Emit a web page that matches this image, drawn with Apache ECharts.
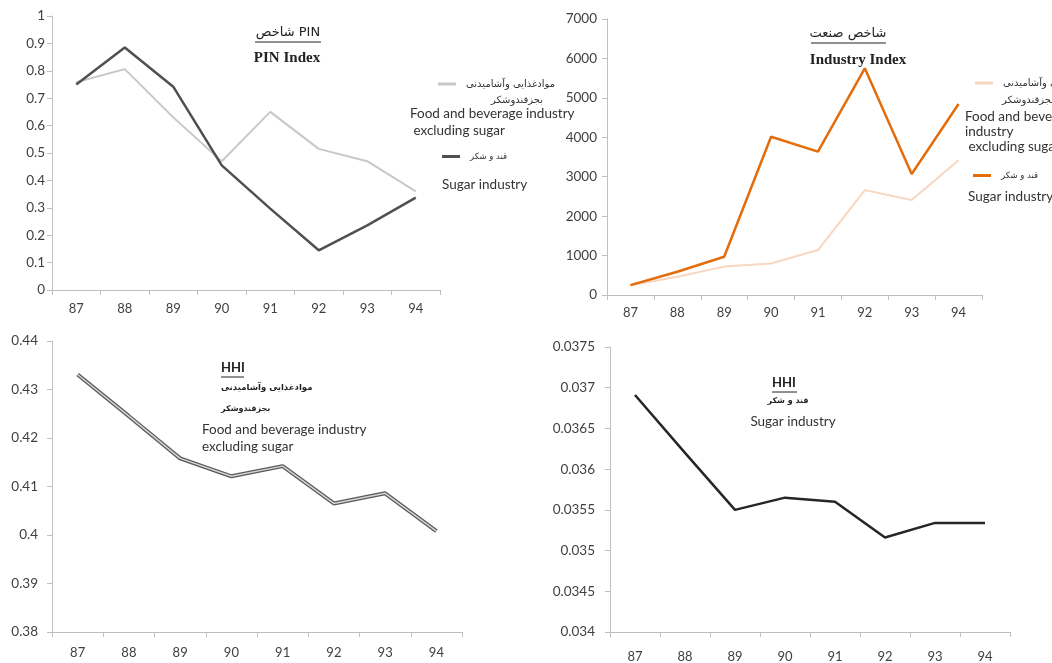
<!DOCTYPE html>
<html>
<head>
<meta charset="utf-8">
<script src="https://cdn.jsdelivr.net/npm/echarts@6/dist/echarts.min.js"></script>
<style>
html,body{margin:0;padding:0;background:#fff;}
#c{width:1052px;height:663px;}
</style>
</head>
<body>
<div id="c"></div>
<script>
const years = ['87','88','89','90','91','92','93','94'];
// PIN index
const pinFood  = [0.758, 0.806, 0.630, 0.470, 0.650, 0.515, 0.470, 0.360];
const pinSugar = [0.750, 0.885, 0.742, 0.455, 0.297, 0.145, 0.236, 0.337];
// Industry index
const indFood  = [250, 465, 720, 800, 1140, 2660, 2410, 3420];
const indSugar = [250, 590, 970, 4015, 3635, 5750, 3070, 4845];
// HHI
const hhiFood  = [0.4331, 0.4245, 0.4158, 0.4121, 0.4142, 0.4065, 0.4086, 0.4008];
const hhiSugar = [0.03691, 0.03620, 0.03550, 0.03565, 0.03560, 0.03516, 0.03534, 0.03534];

const faFood1 = 'موادغذایی وآشامیدنی';
const faFood2 = 'بجزقندوشکر';
const faSugar = 'قند و شکر';

const LBL = '#404040';
const AX = '#bfbfbf';
const FONT = 'Lato, "Open Sans", sans-serif';
const FA = '"DejaVu Sans", sans-serif';

function xAx(gi, margin){
  return {type:'category', gridIndex:gi, data:years, boundaryGap:true,
    axisLine:{lineStyle:{color:AX}}, axisTick:{show:true, length:5, lineStyle:{color:AX}},
    axisLabel:{color:LBL, fontSize:13, fontFamily:FONT, margin:margin},
    splitLine:{show:false}};
}
function yAx(gi, min, max, interval, margin){
  return {type:'value', gridIndex:gi, min:min, max:max, interval:interval,
    axisLine:{show:true, lineStyle:{color:AX}}, axisTick:{show:true, length:5, lineStyle:{color:AX}},
    axisLabel:{color:LBL, fontSize:13.5, fontFamily:FONT, margin:margin,
      formatter:function(v){return String(+v.toPrecision(6));}},
    splitLine:{show:false}};
}
function ln(name, gi, data, color, width, z){
  return {name:name, type:'line', xAxisIndex:gi, yAxisIndex:gi, data:data,
    showSymbol:false, symbol:'none', lineStyle:{color:color, width:width}, itemStyle:{color:color},
    z:z||2, animation:false};
}
function txt(x, y, text, font, align, fill){
  return {type:'text', x:x, y:y, silent:true, z:10,
    style:{text:text, font:font, fill:fill||'#333', textAlign:align||'left', align:align||'left',
      textVerticalAlign:'middle', verticalAlign:'middle'}};
}
function uline(x1, x2, y){
  return {type:'line', silent:true, z:10, shape:{x1:x1, y1:y, x2:x2, y2:y}, style:{stroke:'#222', lineWidth:1}};
}
function leg(name, left, top, label, size){
  return {data:[name], left:left, top:top, padding:0, icon:'rect', itemWidth:18, itemHeight:3,
    selectedMode:false, formatter:function(){return label;},
    textStyle:{fontFamily:FA, fontSize:size, color:'#333', padding:[0,0,0,5]}};
}

const EN = '13.5px ' + FONT;
const FA10 = '10px ' + FA;
const SERIFB = 'bold 15px "Liberation Serif", "DejaVu Serif", serif';

const option = {
  backgroundColor:'#fff',
  animation:false,
  grid:[
    {left:52, top:16, width:388, height:274},
    {left:607, top:19, width:375, height:276},
    {left:52, top:341, width:410, height:291},
    {left:610, top:347, width:400, height:285}
  ],
  xAxis:[xAx(0,12), xAx(1,11), xAx(2,14), xAx(3,18)],
  yAxis:[yAx(0,0,1,0.1,7), yAx(1,0,7000,1000,10), yAx(2,0.38,0.44,0.01,14), yAx(3,0.034,0.0375,0.0005,15)],
  legend:[
    leg('pinFood', 438, 79, faFood1, 10),
    leg('pinSugar', 442, 152, faSugar, 8.5),
    leg('indFood', 975, 78, faFood1, 10),
    leg('indSugar', 973, 171, faSugar, 8.5)
  ],
  series:[
    ln('pinFood', 0, pinFood, '#c8c8c8', 2, 2),
    ln('pinSugar', 0, pinSugar, '#505050', 2.5, 3),
    ln('indFood', 1, indFood, '#f8d6c0', 2, 2),
    ln('indSugar', 1, indSugar, '#e46c0a', 2.5, 3),
    ln('hhiFoodOuter', 2, hhiFood, '#5a5a5a', 4, 2),
    ln('hhiFood', 2, hhiFood, '#d4d4d4', 1.5, 3),
    ln('hhiSugar', 3, hhiSugar, '#262626', 2.5, 3)
  ],
  graphic:[
    // panel 1 title
    txt(288, 33, 'شاخص PIN', '13px ' + FA, 'center', '#222'),
    uline(255, 321, 42),
    txt(287, 58, 'PIN Index', SERIFB, 'center', '#222'),
    // panel 1 legend text
    txt(517, 100, faFood2, FA10, 'center'),
    txt(410, 114, 'Food and beverage industry', EN, 'left'),
    txt(410, 131, ' excluding sugar', EN, 'left'),
    txt(442, 185, 'Sugar industry', EN, 'left'),
    // panel 2 title
    txt(848, 34, 'شاخص صنعت', '13px ' + FA, 'center', '#222'),
    uline(811, 886, 43),
    txt(858, 60, 'Industry Index', SERIFB, 'center', '#222'),
    // panel 2 legend text
    txt(1002, 100, faFood2, FA10, 'left'),
    txt(965, 117, 'Food and beverage', EN, 'left'),
    txt(965, 132, 'industry', EN, 'left'),
    txt(965, 147, ' excluding sugar', EN, 'left'),
    txt(968, 197, 'Sugar industry', EN, 'left'),
    // panel 3 text
    txt(221, 368, 'HHI', 'bold 13px ' + FONT, 'left', '#222'),
    uline(221, 244, 377),
    txt(221, 388, faFood1, 'bold 8.5px ' + FA, 'left', '#222'),
    txt(221, 409, faFood2, 'bold 8px ' + FA, 'left', '#222'),
    txt(202, 430, 'Food and beverage industry', EN, 'left'),
    txt(202, 447, 'excluding sugar', EN, 'left'),
    // panel 4 text
    txt(784, 383, 'HHI', 'bold 13px ' + FONT, 'center', '#222'),
    uline(772, 797, 392),
    txt(788, 401, faSugar, 'bold 8px ' + FA, 'center', '#222'),
    txt(793, 422, 'Sugar industry', EN, 'center')
  ]
};

const chart = echarts.init(document.getElementById('c'), null, {renderer:'canvas'});
chart.setOption(option);
</script>
</body>
</html>
